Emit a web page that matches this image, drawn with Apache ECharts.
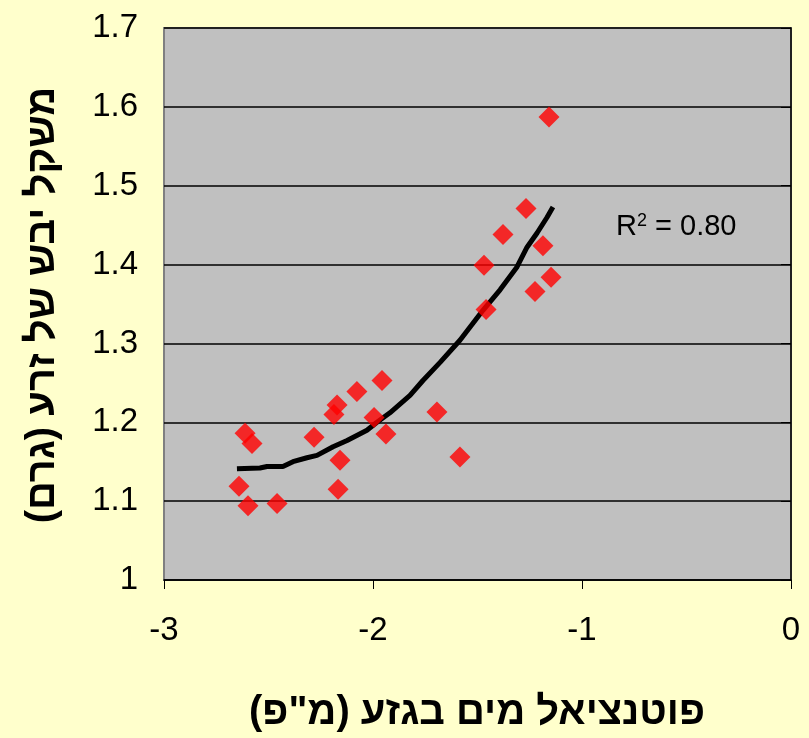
<!DOCTYPE html>
<html>
<head>
<meta charset="utf-8">
<script src="https://cdn.jsdelivr.net/npm/echarts@6/dist/echarts.min.js"></script>
<style>
  html, body { margin: 0; padding: 0; background: #FFFFCC; }
  #chart { width: 809px; height: 738px; }
</style>
</head>
<body>
<div id="chart"></div>
<script>
// water potential (x) vs dry seed weight (y)
const potential = [-1.158, -1.268, -1.378, -1.469, -1.187, -1.148, -1.225, -1.459,
  -2.612, -2.579, -2.641, -2.598, -2.459, -2.282, -2.172, -2.187, -2.158, -2.167,
  -2.077, -1.957, -1.995, -1.938, -1.694, -1.584];
const weight = [1.587, 1.471, 1.438, 1.399, 1.424, 1.384, 1.366, 1.343,
  1.186, 1.173, 1.119, 1.094, 1.097, 1.181, 1.222, 1.210, 1.152, 1.115,
  1.239, 1.253, 1.206, 1.185, 1.213, 1.156];

// trend line
const trendX = [-2.651, -2.541, -2.507, -2.431, -2.383, -2.316, -2.268, -2.191, -2.124,
  -2.029, -1.981, -1.919, -1.823, -1.761, -1.679, -1.584, -1.474, -1.392, -1.311,
  -1.263, -1.215, -1.167, -1.139];
const trendY = [1.141, 1.142, 1.144, 1.144, 1.150, 1.155, 1.158, 1.169, 1.177,
  1.190, 1.200, 1.212, 1.234, 1.253, 1.276, 1.304, 1.342, 1.368, 1.397,
  1.422, 1.440, 1.460, 1.473];

const xTitle = 'פוטנציאל מים בגזע (מ"פ)';
const yTitle = 'משקל יבש של זרע (גרם)';

const font = '"Liberation Sans", Arial, "DejaVu Sans", sans-serif';

const chart = echarts.init(document.getElementById('chart'));
chart.setOption({
  backgroundColor: '#FFFFCC',
  animation: false,
  grid: {
    left: 164, right: 18, top: 28, bottom: 158,
    show: true,
    backgroundColor: '#C0C0C0',
    borderColor: '#808080',
    borderWidth: 2
  },
  xAxis: {
    type: 'value',
    min: -3, max: 0, interval: 1,
    axisLine: { lineStyle: { color: '#000', width: 1.5 } },
    axisTick: { length: 9, lineStyle: { color: '#000' } },
    axisLabel: { fontSize: 33, color: '#000', fontFamily: font, margin: 34 },
    splitLine: { show: false }
  },
  yAxis: {
    type: 'value',
    min: 1, max: 1.7, interval: 0.1,
    axisLine: { show: true, lineStyle: { color: '#000', width: 1.5 } },
    axisTick: { show: true, length: 10, lineStyle: { color: '#000' } },
    axisLabel: { fontSize: 33, color: '#000', fontFamily: font, margin: 26 },
    splitLine: { lineStyle: { color: '#000', width: 1.5 } }
  },
  graphic: [
    {
      type: 'text', x: 477, y: 713,
      style: { text: xTitle, font: 'bold 40px ' + font, fill: '#000',
        align: 'center', verticalAlign: 'middle' }
    },
    {
      type: 'text', x: 43, y: 305, rotation: Math.PI / 2,
      style: { text: yTitle, font: 'bold 40px ' + font, fill: '#000',
        align: 'center', verticalAlign: 'middle' }
    },
    {
      type: 'text', x: 616, y: 227,
      style: {
        text: 'R{sup|2} = 0.80',
        font: '29px ' + font, fill: '#000', verticalAlign: 'middle',
        rich: { sup: { fontSize: 18, fontFamily: font, padding: [0, 0, 12, 0] } }
      }
    }
  ],
  series: [
    {
      type: 'line',
      data: trendX.map((x, i) => [x, trendY[i]]),
      showSymbol: false,
      lineStyle: { color: '#000', width: 5 },
      z: 2
    },
    {
      type: 'scatter',
      data: potential.map((x, i) => [x, weight[i]]),
      symbol: 'diamond',
      symbolSize: 21,
      itemStyle: { color: '#FF0000' },
      z: 3
    }
  ]
});
</script>
</body>
</html>
